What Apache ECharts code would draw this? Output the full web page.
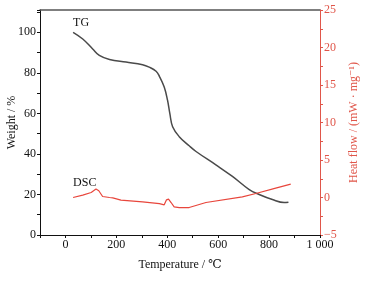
<!DOCTYPE html>
<html>
<head>
<meta charset="utf-8">
<script src="https://cdn.jsdelivr.net/npm/echarts@6/dist/echarts.min.js"></script>
<style>
  html, body { margin: 0; padding: 0; background: #fff; }
  #chart { width: 366px; height: 284px; }
</style>
</head>
<body>
<div id="chart"></div>
<script>
// TG curve (temperature in °C, weight in %)
var tgTemp = [30, 68, 107, 133, 173, 238, 303, 329, 356, 369, 388, 401, 410, 421, 447, 486, 513, 591, 656, 722, 761, 813, 859, 876];
var tgWeight = [100, 96.7, 91.8, 88.6, 86.6, 85.3, 84.0, 82.8, 80.8, 78.3, 73.0, 66.5, 60.0, 53.4, 48.5, 44.0, 41.2, 34.6, 28.9, 22.4, 20.0, 17.5, 16.0, 16.2];

// DSC curve (temperature in °C, heat flow in mW/mg)
var dscTemp = [30, 68, 101, 120, 131, 146, 173, 186, 218, 303, 369, 388, 397, 405, 415, 427, 447, 486, 552, 695, 748, 826, 885];
var dscHeat = [0.0, 0.32, 0.67, 1.12, 0.9, 0.13, 0.0, -0.04, -0.35, -0.58, -0.81, -0.98, -0.31, -0.22, -0.67, -1.25, -1.34, -1.34, -0.67, 0.09, 0.53, 1.25, 1.79];

var seriesNames = ['TG', 'DSC'];

var font = "'Liberation Serif', 'DejaVu Serif', serif";
var red = '#e0564a';

// 只在第一个点上挂曲线名
function pairs(xs, ys, name, dist) {
  return xs.map(function (x, i) {
    var item = { value: [x, ys[i]] };
    if (i === 0) {
      item.label = {
        show: true, formatter: name, position: 'top', align: 'left',
        distance: dist, color: '#111', fontFamily: font, fontSize: 12
      };
    }
    return item;
  });
}

var chart = echarts.init(document.getElementById('chart'));

chart.setOption({
  animation: false,
  grid: { left: 40, right: 46, top: 10, bottom: 49, containLabel: false, outerBoundsMode: 'none' },
  xAxis: [{
    type: 'value', min: -100, max: 1000, interval: 100,
    name: 'Temperature / ℃', nameLocation: 'middle', nameGap: 24,
    nameTextStyle: { fontFamily: font, fontSize: 12, color: '#111' },
    axisLine: { onZero: false, lineStyle: { color: '#111', width: 1 } },
    axisTick: { inside: false, length: 3, lineStyle: { color: '#111' } },
    axisLabel: {
      fontFamily: font, fontSize: 12, color: '#111', margin: 4,
      formatter: function (v) {
        if (v < 0 || v % 200 !== 0) return '';
        return v === 1000 ? '1 000' : String(v);
      }
    },
    splitLine: { show: false }
  }, {
    type: 'value', min: -100, max: 1000, position: 'top',
    axisLine: { show: true, onZero: false, lineStyle: { color: '#555', width: 1.5 } },
    axisTick: { show: false }, axisLabel: { show: false }, splitLine: { show: false }
  }],
  yAxis: [{
    type: 'value', min: 0, max: 111, interval: 20,
    name: 'Weight / %', nameLocation: 'middle', nameGap: 22, nameRotate: 90,
    nameMoveOverlap: false,
    nameTextStyle: { fontFamily: font, fontSize: 12, color: '#111' },
    axisLine: { show: true, onZero: false, lineStyle: { color: '#111', width: 1 } },
    axisTick: { show: true, inside: false, length: 3, lineStyle: { color: '#111' } },
    minorTick: { show: true, splitNumber: 2, length: 3, lineStyle: { color: '#111' } },
    axisLabel: { showMaxLabel: false, fontFamily: font, fontSize: 12, color: '#111', margin: 4 },
    splitLine: { show: false }
  }, {
    type: 'value', min: -5, max: 25, interval: 5, position: 'right',
    name: 'Heat flow / (mW · mg⁻¹)', nameLocation: 'middle', nameGap: 28, nameRotate: 90,
    nameTextStyle: { fontFamily: font, fontSize: 12, color: red },
    axisLine: { show: true, onZero: false, lineStyle: { color: red, width: 1 } },
    axisTick: { show: true, inside: false, length: 3, lineStyle: { color: red } },
    minorTick: { show: true, splitNumber: 2, length: 3, lineStyle: { color: red } },
    axisLabel: {
      fontFamily: font, fontSize: 12, color: red, margin: 4,
      formatter: function (v) { return v < 0 ? '−' + Math.abs(v) : String(v); }
    },
    splitLine: { show: false }
  }],
  series: [{
    name: seriesNames[0], type: 'line', xAxisIndex: 0, yAxisIndex: 0,
    data: pairs(tgTemp, tgWeight, seriesNames[0], 3),
    smooth: 0.4, showSymbol: true, symbol: 'circle', symbolSize: 1,
    itemStyle: { color: 'rgba(0,0,0,0)' },
    lineStyle: { color: '#4a4a4a', width: 1.5 }
  }, {
    name: seriesNames[1], type: 'line', xAxisIndex: 0, yAxisIndex: 1,
    data: pairs(dscTemp, dscHeat, seriesNames[1], 8),
    smooth: false, showSymbol: true, symbol: 'circle', symbolSize: 1,
    itemStyle: { color: 'rgba(0,0,0,0)' },
    lineStyle: { color: '#e8463c', width: 1.2 }
  }]
});
</script>
</body>
</html>
